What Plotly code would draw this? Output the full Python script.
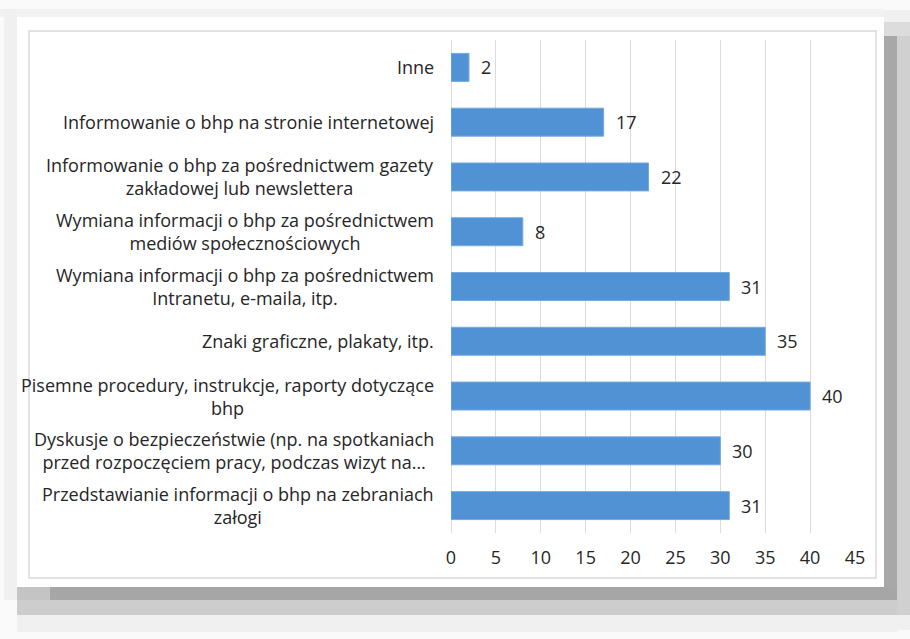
import plotly.graph_objects as go

# Communication channels on health & safety (bhp), listed top to bottom
categories = [
    "Inne",
    "Informowanie o bhp na stronie internetowej",
    "Informowanie o bhp za pośrednictwem gazety<br>zakładowej lub newslettera",
    "Wymiana informacji o bhp za pośrednictwem<br>mediów społecznościowych",
    "Wymiana informacji o bhp za pośrednictwem<br>Intranetu, e-maila, itp.",
    "Znaki graficzne, plakaty, itp.",
    "Pisemne procedury, instrukcje, raporty dotyczące<br>bhp",
    "Dyskusje o bezpieczeństwie (np. na spotkaniach<br>przed rozpoczęciem pracy, podczas wizyt na…",
    "Przedstawianie informacji o bhp na zebraniach<br>załogi",
]
values = [2, 17, 22, 8, 31, 35, 40, 30, 31]
x_ticks = [0, 5, 10, 15, 20, 25, 30, 35, 40, 45]

W, H = 910, 639
PL, PR, PT, PB = 451, 855, 40, 533  # plot area in pixels
FONT = "Open Sans, Carlito, Calibri, sans-serif"
TXT = "#262626"
FS = 18


def px(x):
    return (x - PL) / (PR - PL)


def py(y):
    return (PB - y) / (PB - PT)


def rect(x0, y0, x1, y1, fill, line=None, width=0):
    return dict(
        type="rect", xref="paper", yref="paper", layer="below",
        x0=px(x0), x1=px(x1), y0=py(y1), y1=py(y0),
        fillcolor=fill,
        line=dict(color=line or "rgba(0,0,0,0)", width=width),
    )


fig = go.Figure()
fig.add_trace(go.Bar(
    x=values, y=categories, orientation="h",
    marker=dict(color="#5092d4", line=dict(color="#72a9df", width=1)),
    hoverinfo="skip",
))

annotations = []
# category labels: block right-aligned, lines centred
for cat in categories:
    annotations.append(dict(
        x=0, xref="paper", y=cat, yref="y", text=cat,
        xanchor="right", yanchor="middle", align="center", xshift=-15,
        showarrow=False, font=dict(family=FONT, size=FS, color=TXT),
    ))
# value labels at the end of each bar
for cat, v in zip(categories, values):
    annotations.append(dict(
        x=v, xref="x", y=cat, yref="y", text=str(v),
        xanchor="left", yanchor="middle", xshift=10,
        showarrow=False, font=dict(family=FONT, size=FS, color=TXT),
    ))

shapes = [
    # soft top / left edges
    rect(0, 9, 884, 17, "#f2f2f2"),
    rect(4, 9, 17, 600, "#f0f0f0"),
    # drop shadow on the right
    rect(884, 10, 910, 630, "#f0f0f0"),
    rect(884, 22, 910, 36, "#dcdcdc"),
    rect(884, 36, 897, 600, "#a8a8a8"),
    rect(897, 36, 910, 615, "#d0d0d0"),
    # drop shadow at the bottom
    rect(17, 587, 897, 632, "#f0f0f0"),
    rect(17, 587, 897, 615, "#cdcdcd"),
    rect(50, 587, 897, 600, "#a6a6a6"),
    rect(17, 587, 50, 600, "#c4c4c4"),
    # white card and its inner border
    rect(17, 17, 884, 587, "#ffffff"),
    rect(29, 31, 876, 578, "#ffffff", line="#d9d9de", width=1.5),
]

fig.update_layout(
    width=W, height=H,
    margin=dict(l=PL, r=W - PR, t=PT, b=H - PB, pad=0),
    paper_bgcolor="#fafafa",
    plot_bgcolor="rgba(0,0,0,0)",
    showlegend=False,
    bargap=0.49,
    shapes=shapes,
    annotations=annotations,
    font=dict(family=FONT, size=FS, color=TXT),
    xaxis=dict(
        range=[0, 45], tickvals=x_ticks, ticktext=[str(t) for t in x_ticks],
        showgrid=True, gridcolor="#dcdcdc", gridwidth=1,
        zeroline=True, zerolinecolor="#dcdcdc", zerolinewidth=1,
        showline=False, ticks="", ticklabelstandoff=12,
        tickfont=dict(family=FONT, size=FS, color=TXT),
        fixedrange=True,
    ),
    yaxis=dict(
        autorange="reversed", showticklabels=False, showgrid=False,
        zeroline=False, showline=False, ticks="", fixedrange=True,
    ),
)

fig.write_html("out.html")
